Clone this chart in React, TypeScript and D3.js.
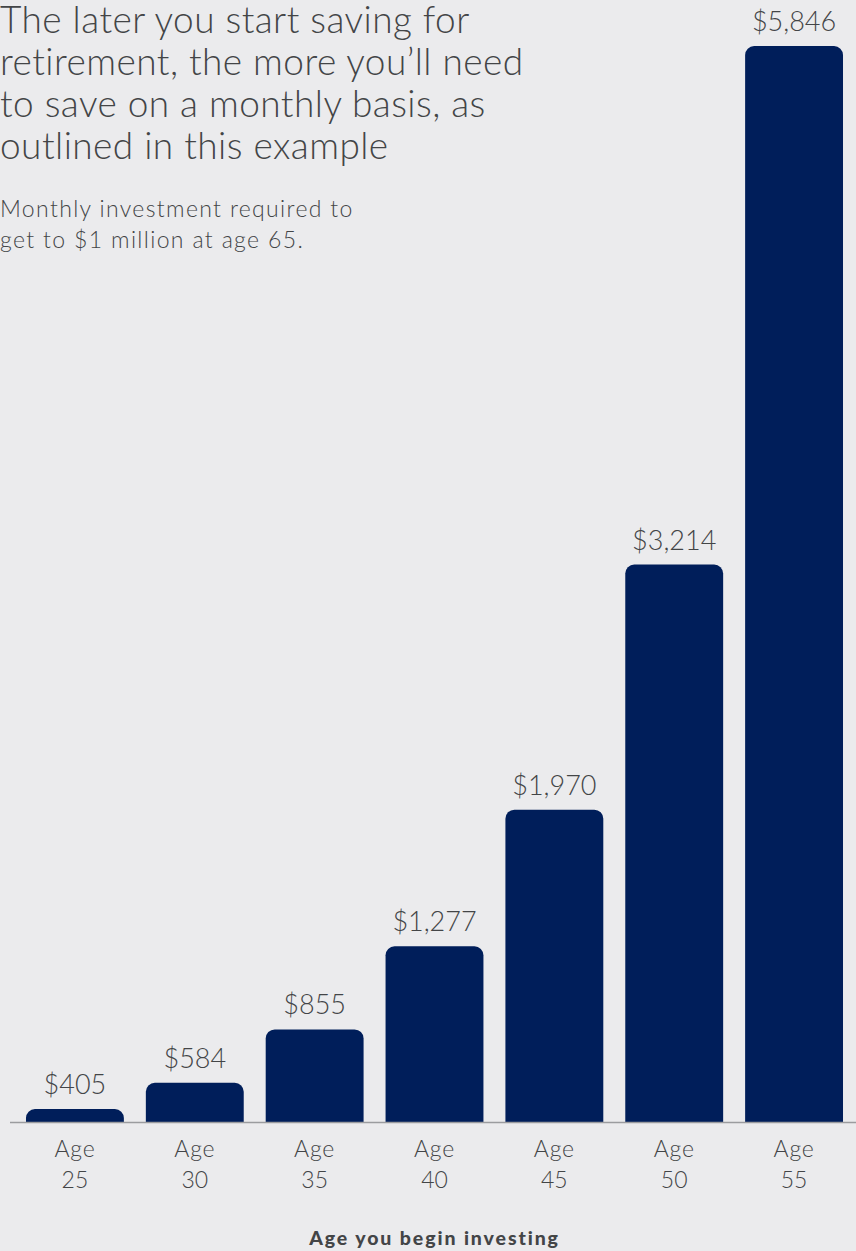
import React from 'react';
import * as d3 from 'd3';

const ages = ['25', '30', '35', '40', '45', '50', '55'];
const values = [405, 584, 855, 1277, 1970, 3214, 5846];
const titleLines = [
  'The later you start saving for',
  'retirement, the more you\u2019ll need',
  'to save on a monthly basis, as',
  'outlined in this example',
];
const subtitleLines = ['Monthly investment required to', 'get to $1 million at age 65.'];
const xAxisTitle = 'Age you begin investing';
const yDomainStart = 385;

const W = 856;
const H = 1251;
const baseline = 1122;
const yTop = 46;
const minBarHeight = 13;
const radius = 9;
const BG = '#ebebed';
const BAR = '#001e5a';
const TEXT = '#434547';
const LIGHT = "Lato, 'Open Sans', sans-serif";

function barPath(x0: number, y0: number, w: number, y1: number, r: number) {
  const p = d3.path();
  const rr = Math.min(r, y1 - y0, w / 2);
  p.moveTo(x0, y1);
  p.lineTo(x0, y0 + rr);
  p.arcTo(x0, y0, x0 + rr, y0, rr);
  p.lineTo(x0 + w - rr, y0);
  p.arcTo(x0 + w, y0, x0 + w, y0 + rr, rr);
  p.lineTo(x0 + w, y1);
  p.closePath();
  return p.toString();
}

export default function App() {
  const x = d3
    .scaleBand<string>()
    .domain(ages)
    .range([15, 854])
    .paddingInner(0.1833)
    .paddingOuter(0.0917);
  const y = d3
    .scaleLinear()
    .domain([yDomainStart, d3.max(values) as number])
    .range([baseline, yTop]);
  const fmt = d3.format('$,');

  return (
    <svg
      width={W}
      height={H}
      style={{ position: 'absolute', left: 0, top: 0, display: 'block', background: BG }}
    >
      <rect x={0} y={0} width={W} height={H} fill={BG} />
      <g fill={TEXT} fontFamily={LIGHT} fontWeight={300}>
        {titleLines.map((t, i) => (
          <text key={i} x={0} y={32.5 + i * 42.3} fontSize={37} letterSpacing={0.45}>
            {t}
          </text>
        ))}
        {subtitleLines.map((t, i) => (
          <text key={i} x={0} y={216.7 + i * 30.8} fontSize={23} letterSpacing={1.35}>
            {t}
          </text>
        ))}
      </g>
      <g>
        {ages.map((a, i) => {
          const x0 = x(a) as number;
          const cx = x0 + x.bandwidth() / 2;
          const top = Math.min(y(values[i]), baseline - minBarHeight);
          return (
            <g key={a}>
              <path d={barPath(x0, top, x.bandwidth(), baseline, radius)} fill={BAR} />
              <text
                x={cx}
                y={top - 15}
                textAnchor="middle"
                fontFamily={LIGHT}
                fontWeight={300}
                fontSize={27}
                fill={TEXT}
              >
                {fmt(values[i])}
              </text>
              <text textAnchor="middle" fontFamily={LIGHT} fontWeight={300} fontSize={23} fill={TEXT}>
                <tspan x={cx} y={1156.7} letterSpacing={0.8}>Age</tspan>
                <tspan x={cx} y={1188.3}>{a}</tspan>
              </text>
            </g>
          );
        })}
      </g>
      <line x1={10} x2={W} y1={baseline + 0.5} y2={baseline + 0.5} stroke="#9b9c9f" strokeWidth={1.5} />
      <text
        x={434.5}
        y={1244.5}
        textAnchor="middle"
        fontFamily={LIGHT}
        fontWeight={900}
        fontSize={19.5}
        letterSpacing={1.9}
        fill={TEXT}
      >
        {xAxisTitle}
      </text>
    </svg>
  );
}
